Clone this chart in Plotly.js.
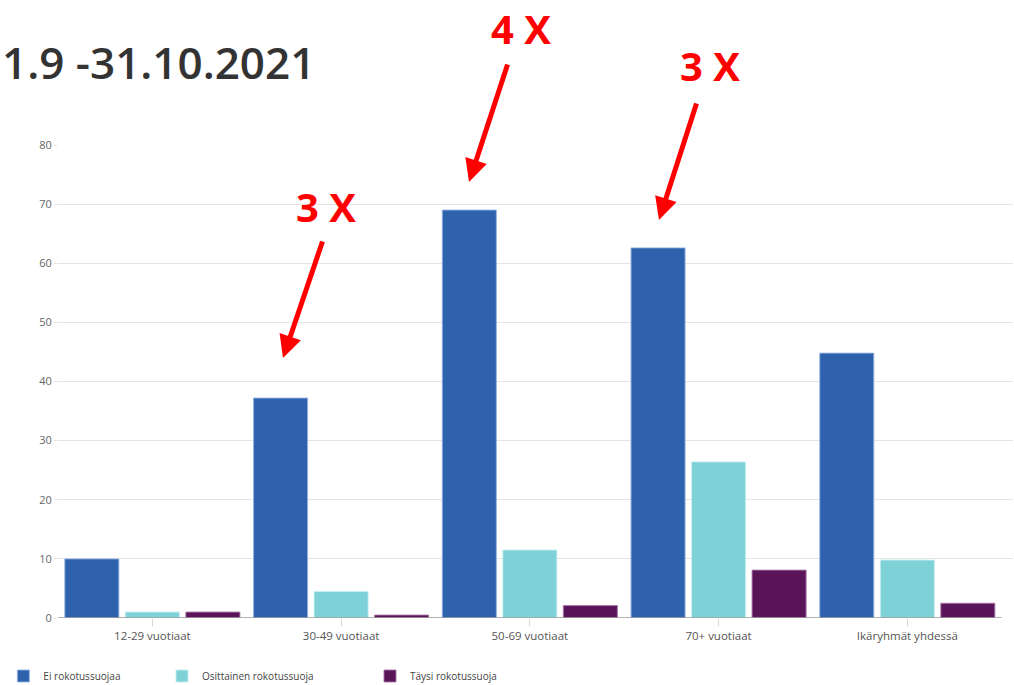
<!DOCTYPE html>
<html>
<head>
<meta charset="utf-8">
<script src="https://cdn.plot.ly/plotly-3.0.1.min.js"></script>
<style>html,body{margin:0;padding:0;background:#fff;}#chart{width:1014px;height:685px;}</style>
</head>
<body>
<div id="chart"></div>
<script>
const categories = ["12-29 vuotiaat", "30-49 vuotiaat", "50-69 vuotiaat", "70+ vuotiaat", "Ikäryhmät yhdessä"];
const seriesNames = ["Ei rokotussuojaa", "Osittainen rokotussuoja", "Täysi rokotussuoja"];
const eiRokotussuojaa = [10.0, 37.2, 69.0, 62.6, 44.8];
const osittainenRokotussuoja = [1.0, 4.5, 11.5, 26.4, 9.8];
const taysiRokotussuoja = [1.0, 0.5, 2.1, 8.1, 2.5];
const yTicks = [0, 10, 20, 30, 40, 50, 60, 70, 80];
const titleText = "1.9 -31.10.2021";
const calloutTexts = ["3 X", "4 X", "3 X"];

const colors = ["#2f62ad", "#7dd1d7", "#5a1458"];
const outlines = ["rgba(150,180,225,0.9)", "rgba(200,240,242,0.9)", "rgba(170,120,170,0.9)"];
const seriesValues = [eiRokotussuojaa, osittainenRokotussuoja, taysiRokotussuoja];
const legendIds = ["legend", "legend2", "legend3"];

const traces = seriesValues.map((vals, i) => ({
  type: "bar",
  name: seriesNames[i],
  x: categories,
  y: vals,
  marker: {color: colors[i], line: {color: outlines[i], width: 1}},
  legend: legendIds[i],
  hoverinfo: "x+y+name"
}));

const FONT = "Open Sans, Noto Sans, sans-serif";
const legendBase = {
  orientation: "h", yref: "paper", y: -0.1226, yanchor: "middle", xanchor: "left",
  bgcolor: "rgba(0,0,0,0)", font: {family: FONT, size: 10, color: "#444"},
  itemclick: false, itemdoubleclick: false
};

// callout arrows (positions in paper/pixel space)
const arrowHeads = [[0.2356, 0.5497], [0.4304, 0.9218], [0.6293, 0.8414]];
const arrowTails = [[40, -118], [39, -119], [38, -118]];
const textPos = [[0.2806, 0.869], [0.4848, 1.2463], [0.6827, 1.169]];

const annotations = [];
calloutTexts.forEach((t, i) => {
  annotations.push({
    xref: "paper", yref: "paper", x: arrowHeads[i][0], y: arrowHeads[i][1],
    ax: arrowTails[i][0], ay: arrowTails[i][1], text: "",
    showarrow: true, arrowhead: 2, arrowsize: 0.9, arrowwidth: 5, arrowcolor: "#ff0000", standoff: 0
  });
  annotations.push({
    xref: "paper", yref: "paper", x: textPos[i][0], y: textPos[i][1],
    xanchor: "center", yanchor: "middle", showarrow: false, text: t,
    font: {family: FONT, size: 40, color: "#ff0000", weight: 700}
  });
});

const layout = {
  width: 1014, height: 685,
  margin: {l: 58, r: 1, t: 145, b: 67, autoexpand: false},
  paper_bgcolor: "#fff", plot_bgcolor: "#fff",
  title: {
    text: titleText, xref: "container", yref: "container", x: 0.002, xanchor: "left",
    y: 0.907, yanchor: "middle",
    font: {family: FONT, size: 44, color: "#333", weight: 600}
  },
  barmode: "group", bargap: 0.038, bargroupgap: 0.107,
  xaxis: {
    type: "category", range: [-0.5, 4.56], showgrid: false, zeroline: false, showline: false,
    ticks: "outside", ticklen: 7, tickcolor: "#d6d6d6", tickwidth: 1,
    tickfont: {family: FONT, size: 11.5, color: "#555"}, fixedrange: true
  },
  yaxis: {
    range: [0, 80], tickvals: yTicks, ticktext: yTicks.map(String),
    showgrid: true, gridcolor: "#e4e4e4", gridwidth: 1, zeroline: false, showline: false,
    ticks: "outside", ticklen: 3, tickcolor: "#e4e4e4",
    tickfont: {family: FONT, size: 11, color: "#666"}, fixedrange: true
  },
  shapes: [{
    type: "line", xref: "x", yref: "y", x0: -0.5, x1: 4.5, y0: 0, y1: 0,
    line: {color: "#9a9a9a", width: 1.5}, layer: "above"
  }],
  legend: Object.assign({}, legendBase, {x: -0.0572}),
  legend2: Object.assign({}, legendBase, {x: 0.1089}),
  legend3: Object.assign({}, legendBase, {x: 0.3267}),
  annotations: annotations,
  showlegend: true
};

Plotly.newPlot("chart", traces, layout, {displayModeBar: false, responsive: false});
</script>
</body>
</html>
